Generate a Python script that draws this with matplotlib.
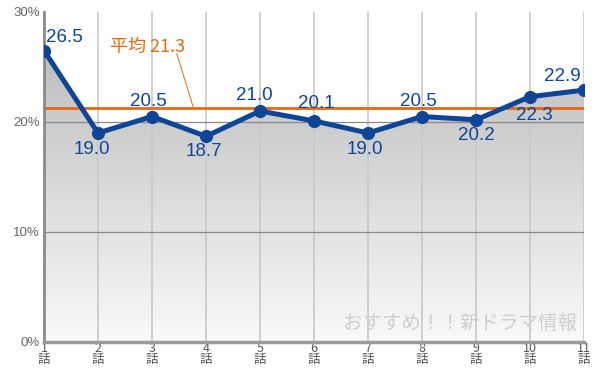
import matplotlib
matplotlib.use("Agg")
import matplotlib.pyplot as plt
import numpy as np
from matplotlib.patches import Polygon
from matplotlib.colors import LinearSegmentedColormap

plt.rcParams['font.family'] = ['Liberation Sans', 'Noto Sans CJK JP', 'DejaVu Sans']

episodes = [1, 2, 3, 4, 5, 6, 7, 8, 9, 10, 11]
ratings = [26.5, 19.0, 20.5, 18.7, 21.0, 20.1, 19.0, 20.5, 20.2, 22.3, 22.9]
average = 21.3
xtick_labels = [f"{e}\n話" for e in episodes]
ytick_vals = [0, 10, 20, 30]
ytick_labels = ["0%", "10%", "20%", "30%"]
# label offsets in pixels (dx, dy)
label_dx = [20, -6, -4, -2, -6, 2, -3, -4, 0, 4, -22]
label_dy = [13, -17, 15, -15, 16, 17, -17, 15, -16, -19, 14]

blue = '#0f4597'
orange = '#e8680f'

fig = plt.figure(figsize=(6, 3.7), dpi=100)
ax = fig.add_axes([44/600, 1-342/370, 540/600, 330/370])
ax.set_xlim(1, 11)
ax.set_ylim(0, 30)

# gradient fill under line
grad = np.linspace(0, 1, 256).reshape(-1, 1)
cmap = LinearSegmentedColormap.from_list('g', ['#f9f9f9', '#bdbdbd'])
im = ax.imshow(grad, extent=[1, 11, 0, 27], origin='lower', aspect='auto',
               cmap=cmap, zorder=0)
verts = [(1, 0)] + list(zip(episodes, ratings)) + [(11, 0)]
poly = Polygon(verts, closed=True, transform=ax.transData, facecolor='none', edgecolor='none')
ax.add_patch(poly)
im.set_clip_path(poly)

for x in episodes:
    ax.axvline(x, color='#c8c8c8', lw=1.2, zorder=1)
for y in [10, 20]:
    ax.axhline(y, color='#8a8a8a', lw=0.9, zorder=1)

ax.axhline(average, color=orange, lw=2, zorder=2)
ax.plot(episodes, ratings, color=blue, lw=3.6, marker='o', ms=8.5, zorder=3)

for x, y, dx, dy in zip(episodes, ratings, label_dx, label_dy):
    ax.annotate(f"{y:.1f}", (x, y), xytext=(dx, dy), textcoords='offset pixels',
                ha='center', va='center', color=blue, fontsize=13.5, zorder=4)

ax.text(2.22, 26.8, "平均 21.3", color=orange, fontsize=13, ha='left', va='center',
        family=['Noto Sans CJK JP', 'Liberation Sans'])
ax.plot([3.46, 3.76], [26.2, 21.4], color=orange, lw=0.7, zorder=2)

ax.text(577/600, 1-323/370, "おすすめ！！新ドラマ情報", transform=fig.transFigure,
        ha='right', va='center', color='#cfcfcf', fontsize=14,
        family=['Noto Sans CJK JP', 'DejaVu Sans'])

ax.set_xticks(episodes)
ax.set_xticklabels(xtick_labels, family=['Noto Sans CJK JP', 'DejaVu Sans'],
                   fontsize=9, color='#555555', linespacing=0.85)
ax.set_yticks(ytick_vals)
ax.set_yticklabels(ytick_labels, fontsize=9.5, color='#666666')
ax.tick_params(axis='both', length=0, pad=3)
ax.tick_params(axis='x', pad=0)

for s in ['top', 'right']:
    ax.spines[s].set_visible(False)
ax.spines['left'].set_color('#8a8a8a')
ax.spines['left'].set_linewidth(2)
ax.spines['bottom'].set_color('#9a9a9a')
ax.spines['bottom'].set_linewidth(2.5)

fig.savefig('out.png', dpi=100, facecolor='white')
